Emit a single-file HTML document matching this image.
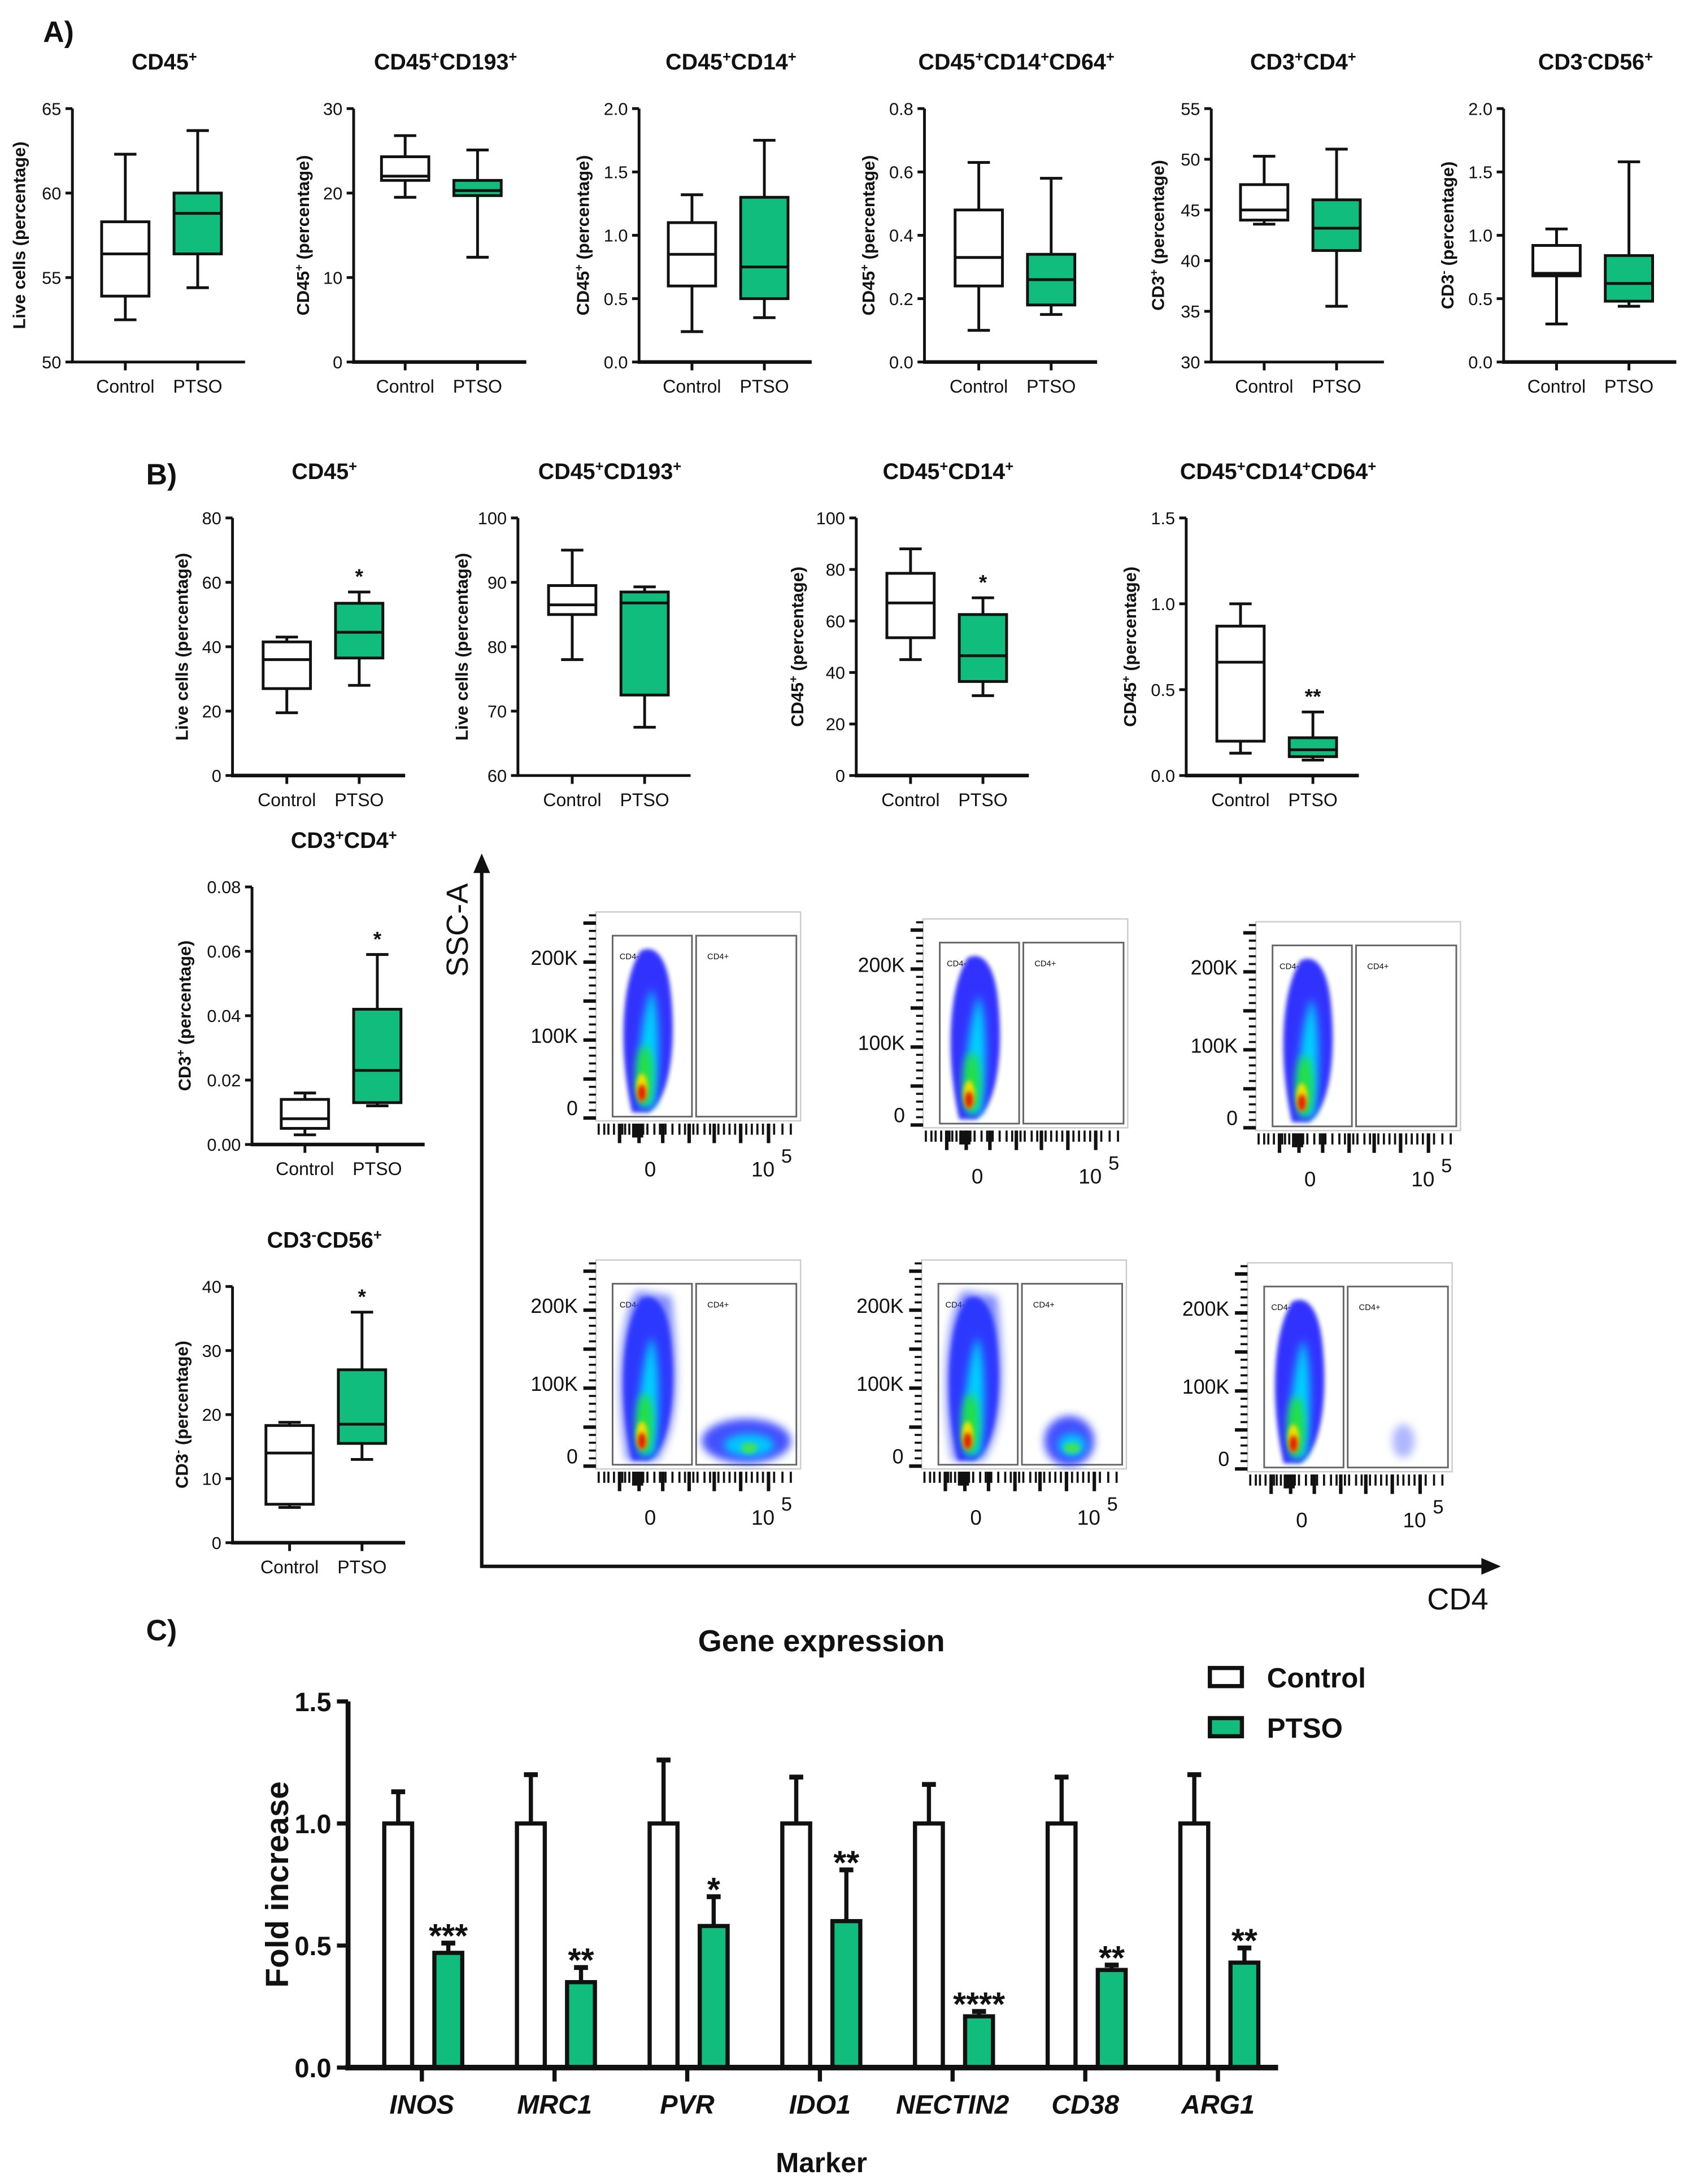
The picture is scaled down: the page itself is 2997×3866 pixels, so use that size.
<!DOCTYPE html>
<html><head><meta charset="utf-8"><style>
html,body{margin:0;padding:0;background:#fff}
svg{display:block}
text{font-family:"Liberation Sans",sans-serif;fill:#111}
</style></head><body>
<svg id="fig" xmlns="http://www.w3.org/2000/svg" width="2997" height="3866" viewBox="0 0 1216 1568.6">
<defs>
<filter id="blur" x="-50%" y="-50%" width="200%" height="200%"><feGaussianBlur stdDeviation="3"/></filter>
<filter id="blur2" x="-50%" y="-50%" width="200%" height="200%"><feGaussianBlur stdDeviation="1.5"/></filter>
</defs>
<g id="root"></g>
</svg>
<script>
// ---------- Panel A data: [min, q1, median, q3, max] ----------
const a1Control=[52.5,53.9,56.4,58.3,62.3], a1Ptso=[54.4,56.4,58.8,60.0,63.7];
const a2Control=[19.5,21.5,22.0,24.3,26.8], a2Ptso=[12.4,19.7,20.3,21.5,25.1];
const a3Control=[0.24,0.60,0.85,1.10,1.32], a3Ptso=[0.35,0.50,0.75,1.30,1.75];
const a4Control=[0.10,0.24,0.33,0.48,0.63], a4Ptso=[0.15,0.18,0.26,0.34,0.58];
const a5Control=[43.6,44.0,45.0,47.5,50.3], a5Ptso=[35.5,41.0,43.2,46.0,51.0];
const a6Control=[0.30,0.68,0.70,0.92,1.05], a6Ptso=[0.44,0.48,0.62,0.84,1.58];
// ---------- Panel B data ----------
const b1Control=[19.5,27,36,41.5,43], b1Ptso=[28,36.5,44.5,53.5,57];
const b2Control=[78,85,86.5,89.5,95], b2Ptso=[67.5,72.5,86.8,88.5,89.3];
const b3Control=[45,53.5,67,78.5,88], b3Ptso=[31,36.5,46.5,62.5,69];
const b4Control=[0.13,0.20,0.66,0.87,1.0], b4Ptso=[0.09,0.11,0.15,0.22,0.37];
const b5Control=[0.003,0.005,0.008,0.014,0.016], b5Ptso=[0.012,0.013,0.023,0.042,0.059];
const b6Control=[5.5,6,14,18.3,18.8], b6Ptso=[13,15.5,18.5,27,36];
const groupLabels=["Control","PTSO"];
// ---------- Panel C data ----------
const genes=["INOS","MRC1","PVR","IDO1","NECTIN2","CD38","ARG1"];
const ctrlMean=[1,1,1,1,1,1,1];
const ctrlErr=[0.13,0.20,0.26,0.19,0.16,0.19,0.20];
const ptsoMean=[0.47,0.35,0.58,0.60,0.21,0.40,0.43];
const ptsoErr=[0.04,0.06,0.12,0.21,0.02,0.02,0.06];
const sigStars=["***","**","*","**","****","**","**"];
const cTicks=["0.0","0.5","1.0","1.5"];

const NS="http://www.w3.org/2000/svg";
const root=document.getElementById('root');
const GREEN="#10bd7c";
function mk(tag,attrs,parent){const e=document.createElementNS(NS,tag);for(const k in attrs)e.setAttribute(k,attrs[k]);(parent||root).appendChild(e);return e;}
function rich(t,str){
  const parts=str.split(/(\^[+-])/);
  parts.forEach(p=>{if(!p)return;const s=document.createElementNS(NS,'tspan');
    if(p[0]==='^'){s.setAttribute('baseline-shift','super');s.setAttribute('font-size','65%');s.textContent=p[1];}
    else s.textContent=p;t.appendChild(s);});
}
function label(x,y,str,opt,parent,name){
  const t=mk('text',Object.assign({x:x,y:y,'text-anchor':'middle'},opt||{}),parent);
  
  
  rich(t,str);return t;
}

function boxChart(c){
  const g=mk('g',{});
  
  
  const ys=v=>c.bot-(v-c.min)/(c.max-c.min)*(c.bot-c.top);
  label(c.ax+c.w/2+4,c.top-28,c.title,{'font-size':16,'font-weight':'bold'},g,'chart-title');
  const ya=mk('line',{x1:c.ax,y1:c.top,x2:c.ax,y2:c.bot,stroke:'#111','stroke-width':2},g);
  
  const xa=mk('line',{x1:c.ax-1,y1:c.bot,x2:c.ax+c.w,y2:c.bot,stroke:'#111','stroke-width':c.min===0?2.6:2},g);
  
  for(let v=c.min;v<=c.max+1e-9;v+=c.step){
    const y=ys(v);
    mk('line',{x1:c.ax-5,y1:y,x2:c.ax,y2:y,stroke:'#111','stroke-width':2},g);
    const t=mk('text',{x:c.ax-8,y:y+4.5,'text-anchor':'end','font-size':12.5},g);
    
    t.textContent=v.toFixed(c.dec);
  }
  label(0,0,c.ylabel,{'font-size':12.5,'font-weight':'bold',transform:`translate(${c.ax-c.lo},${(c.top+c.bot)/2}) rotate(-90)`},g,'y-axis-title');
  [c.ctrl,c.ptso].forEach((d,i)=>{
    const x=c.ax+c.off+i*52;
    mk('line',{x1:x,y1:c.bot,x2:x,y2:c.bot+6,stroke:'#111','stroke-width':2},g);
    const t=mk('text',{x:x,y:c.bot+22,'text-anchor':'middle','font-size':13},g);
    
    t.textContent=groupLabels[i];
    const bg=mk('g',{},g);
    
    
    mk('line',{x1:x,y1:ys(d[0]),x2:x,y2:ys(d[4]),stroke:'#111','stroke-width':2},bg);
    mk('line',{x1:x-8,y1:ys(d[0]),x2:x+8,y2:ys(d[0]),stroke:'#111','stroke-width':2},bg);
    mk('line',{x1:x-8,y1:ys(d[4]),x2:x+8,y2:ys(d[4]),stroke:'#111','stroke-width':2},bg);
    mk('rect',{x:x-17,y:ys(d[3]),width:34,height:ys(d[1])-ys(d[3]),fill:i?GREEN:'#fff',stroke:'#111','stroke-width':2},bg);
    mk('line',{x1:x-17,y1:ys(d[2]),x2:x+17,y2:ys(d[2]),stroke:'#111','stroke-width':2},bg);
    if(i&&c.star){const s=mk('text',{x:x,y:ys(d[4])-6,'text-anchor':'middle','font-size':15,'font-weight':'bold'},g);
      s.textContent=c.star;}
  });
}
const at=78,ab=260;
label(42,30,"A)",{'font-size':21,'font-weight':'bold'},null,'panel-a-label');
boxChart({name:'a-cd45',title:'CD45^+',ylabel:'Live cells (percentage)',ax:52,top:at,bot:ab,min:50,max:65,step:5,dec:0,w:124,off:38,lo:34,ctrl:a1Control,ptso:a1Ptso});
boxChart({name:'a-cd45-cd193',title:'CD45^+CD193^+',ylabel:'CD45^+ (percentage)',ax:254,top:at,bot:ab,min:0,max:30,step:10,dec:0,w:124,off:37,lo:32,ctrl:a2Control,ptso:a2Ptso});
boxChart({name:'a-cd45-cd14',title:'CD45^+CD14^+',ylabel:'CD45^+ (percentage)',ax:459,top:at,bot:ab,min:0,max:2,step:0.5,dec:1,w:124,off:38,lo:36,ctrl:a3Control,ptso:a3Ptso});
boxChart({name:'a-cd45-cd14-cd64',title:'CD45^+CD14^+CD64^+',ylabel:'CD45^+ (percentage)',ax:664,top:at,bot:ab,min:0,max:0.8,step:0.2,dec:1,w:124,off:39,lo:36,ctrl:a4Control,ptso:a4Ptso});
boxChart({name:'a-cd3-cd4',title:'CD3^+CD4^+',ylabel:'CD3^+ (percentage)',ax:870,top:at,bot:ab,min:30,max:55,step:5,dec:0,w:124,off:38,lo:34,ctrl:a5Control,ptso:a5Ptso});
boxChart({name:'a-cd3-cd56',title:'CD3^-CD56^+',ylabel:'CD3^- (percentage)',ax:1080,top:at,bot:ab,min:0,max:2,step:0.5,dec:1,w:124,off:38,lo:36,ctrl:a6Control,ptso:a6Ptso});
label(116,348,"B)",{'font-size':21,'font-weight':'bold'},null,'panel-b-label');
boxChart({name:'b-cd45',title:'CD45^+',ylabel:'Live cells (percentage)',ax:167,top:372,bot:557,min:0,max:80,step:20,dec:0,w:124,off:39,lo:32,ctrl:b1Control,ptso:b1Ptso,star:'*'});
boxChart({name:'b-cd45-cd193',title:'CD45^+CD193^+',ylabel:'Live cells (percentage)',ax:372,top:372,bot:557,min:60,max:100,step:10,dec:0,w:124,off:39,lo:36,ctrl:b2Control,ptso:b2Ptso});
boxChart({name:'b-cd45-cd14',title:'CD45^+CD14^+',ylabel:'CD45^+ (percentage)',ax:615,top:372,bot:557,min:0,max:100,step:20,dec:0,w:124,off:39,lo:38,ctrl:b3Control,ptso:b3Ptso,star:'*'});
boxChart({name:'b-cd45-cd14-cd64',title:'CD45^+CD14^+CD64^+',ylabel:'CD45^+ (percentage)',ax:852,top:372,bot:557,min:0,max:1.5,step:0.5,dec:1,w:124,off:39,lo:36,ctrl:b4Control,ptso:b4Ptso,star:'**'});
boxChart({name:'b-cd3-cd4',title:'CD3^+CD4^+',ylabel:'CD3^+ (percentage)',ax:181,top:637,bot:822,min:0,max:0.08,step:0.02,dec:2,w:124,off:38,lo:44,ctrl:b5Control,ptso:b5Ptso,star:'*'});
boxChart({name:'b-cd3-cd56',title:'CD3^-CD56^+',ylabel:'CD3^- (percentage)',ax:167,top:924,bot:1108,min:0,max:40,step:10,dec:0,w:124,off:41,lo:32,ctrl:b6Control,ptso:b6Ptso,star:'*'});

const flow=mk('g',{});


mk('line',{x1:346,y1:1126,x2:346,y2:625,stroke:'#111','stroke-width':2.5},flow);
mk('polygon',{points:'340,627 352,627 346,613',fill:'#111'},flow);
mk('line',{x1:345,y1:1125,x2:1066,y2:1125,stroke:'#111','stroke-width':2.5},flow);
mk('polygon',{points:'1064,1119 1064,1131 1078,1125',fill:'#111'},flow);
label(0,0,'SSC-A',{'font-size':22,transform:'translate(336,668) rotate(-90)'},flow,'y-axis-title');
label(1047,1156,'CD4',{'font-size':22},flow,'x-axis-title');
const plots=[[428,655,0],[663,660,0],[902,662,0],[428,905,1],[662,905,1],[896,907,2]];
plots.forEach((p,k)=>{
  const [fx,fy,pos]=p;const g=mk('g',{},flow);
  
  
  mk('rect',{x:fx,y:fy,width:147,height:150,fill:'#fff',stroke:'#ccc','stroke-width':1},g);
  for(let i=0;i<=26;i++){const y=fy+148-i*5.6;const big=i%5===0;
    mk('line',{x1:fx-(big?9:5),y1:y,x2:fx,y2:y,stroke:'#111','stroke-width':big?2.5:1.5},g);}
  [['200K',fy+38],['100K',fy+94],['0',fy+146]].forEach(l=>{const tt=mk('text',{x:fx-13,y:l[1],'text-anchor':'end','font-size':14.5},g);tt.textContent=l[0];});
  const xt=[2,6,9,13,17,19,21,24,27,31,34,37,42,46,48,50,55,60,64,67,70,73,78,82,85,88,92,96,100,104,108,112,116,120,124,128,134,140];
  xt.forEach((v,i)=>{const big=(i%5===4);mk('line',{x1:fx+v,y1:fy+152,x2:fx+v,y2:fy+152+(big?14:8),stroke:'#111','stroke-width':big?2.5:1.5},g);});
  mk('rect',{x:fx+26,y:fy+152,width:8,height:10,fill:'#111'},g);
  let tt=mk('text',{x:fx+39,y:fy+190,'text-anchor':'middle','font-size':15},g);tt.textContent='0';
  tt=mk('text',{x:fx+120,y:fy+190,'text-anchor':'middle','font-size':15},g);tt.textContent='10';
  tt=mk('text',{x:fx+137,y:fy+180,'text-anchor':'middle','font-size':14},g);tt.textContent='5';
  mk('rect',{x:fx+12,y:fy+17,width:57,height:130,fill:'none',stroke:'#666','stroke-width':1.2},g);
  mk('rect',{x:fx+72,y:fy+17,width:72,height:130,fill:'none',stroke:'#666','stroke-width':1.2},g);
  mk('text',{x:fx+17,y:fy+34,'font-size':6,fill:'#555'},g).textContent='CD4-';
  mk('text',{x:fx+80,y:fy+34,'font-size':6,fill:'#555'},g).textContent='CD4+';
  const cx=fx+38, by=fy+140;
  const wide=pos===1;
  mk('path',{d:`M${cx-12},${by+4} C${cx-22},${by-40} ${cx-20},${by-90} ${cx-6},${by-112} C${cx+6},${by-118} ${cx+14},${by-104} ${cx+16},${by-80} C${cx+20},${by-40} ${cx+14},${by-5} ${cx},${by+4} Z`,fill:'#1a1aff',filter:'url(#blur2)',opacity:0.9},g);
  if(wide) mk('path',{d:`M${cx-16},${by+4} C${cx-24},${by-40} ${cx-22},${by-100} ${cx-8},${by-118} L${cx+16},${by-114} C${cx+22},${by-60} ${cx+22},${by-20} ${cx+6},${by+4} Z`,fill:'#2a3cff',opacity:0.6,filter:'url(#blur)'},g);
  mk('path',{d:`M${cx-6},${by} C${cx-10},${by-30} ${cx-4},${by-70} ${cx+2},${by-85} C${cx+8},${by-70} ${cx+8},${by-30} ${cx+4},${by} Z`,fill:'#00d0ff',filter:'url(#blur)'},g);
  mk('ellipse',{cx:cx-3,cy:by-22,rx:6,ry:22,fill:'#20e040',filter:'url(#blur)'},g);
  mk('ellipse',{cx:cx-5,cy:by-14,rx:4,ry:10,fill:'#f0e000',filter:'url(#blur2)'},g);
  mk('ellipse',{cx:cx-5,cy:by-10,rx:3,ry:6,fill:'#e02000',filter:'url(#blur2)'},g);
  if(pos===1){
    const px=fx+(k===3?108:106);
    mk('ellipse',{cx:px,cy:by-10,rx:k===3?32:18,ry:k===3?16:18,fill:'#2030ff',opacity:0.85,filter:'url(#blur)'},g);
    mk('ellipse',{cx:px+2,cy:by-7,rx:k===3?18:10,ry:8,fill:'#00c8ff',filter:'url(#blur)'},g);
    mk('ellipse',{cx:px+2,cy:by-5,rx:6,ry:4,fill:'#40e060',filter:'url(#blur2)'},g);
  }
  if(pos===2) mk('ellipse',{cx:fx+112,cy:by-12,rx:8,ry:12,fill:'#6070ff',opacity:0.5,filter:'url(#blur)'},g);
});

label(116,1178,"C)",{'font-size':21,'font-weight':'bold'},null,'panel-c-label');
label(590,1186,"Gene expression",{'font-size':22,'font-weight':'bold'},null,'chart-title');
const cAx=250,cTop=1222,cBot=1485,cMax=1.5,cRight=918;
const cy=v=>cBot-v/cMax*(cBot-cTop);
const gx=i=>303+i*95.3;
const cg=mk('g',{});


cTicks.forEach(s=>{const v=parseFloat(s),y=cy(v);
  mk('line',{x1:cAx-8,y1:y,x2:cAx,y2:y,stroke:'#111','stroke-width':3},cg);
  const tt=mk('text',{x:cAx-12,y:y+7,'text-anchor':'end','font-size':19,'font-weight':'bold'},cg);
  tt.textContent=s;});
label(0,0,'Fold increase',{'font-size':23,'font-weight':'bold',transform:`translate(207,${(cTop+cBot)/2}) rotate(-90)`},cg,'y-axis-title');
label(590,1560,'Marker',{'font-size':20,'font-weight':'bold'},cg,'x-axis-title');
genes.forEach((gname,i)=>{
  const x=gx(i);
  const xc=x-17, xp=x+19;
  const b1=mk('rect',{x:xc-10,y:cy(ctrlMean[i]),width:20,height:cBot-cy(ctrlMean[i]),fill:'#fff',stroke:'#111','stroke-width':3},cg);
  
  mk('line',{x1:xc,y1:cy(ctrlMean[i]),x2:xc,y2:cy(ctrlMean[i]+ctrlErr[i]),stroke:'#111','stroke-width':3},cg);
  mk('line',{x1:xc-5,y1:cy(ctrlMean[i]+ctrlErr[i]),x2:xc+5,y2:cy(ctrlMean[i]+ctrlErr[i]),stroke:'#111','stroke-width':3.5},cg);
  const b2=mk('rect',{x:xp-10,y:cy(ptsoMean[i]),width:20,height:cBot-cy(ptsoMean[i]),fill:GREEN,stroke:'#111','stroke-width':3},cg);
  
  mk('line',{x1:xp,y1:cy(ptsoMean[i]),x2:xp,y2:cy(ptsoMean[i]+ptsoErr[i]),stroke:'#111','stroke-width':3},cg);
  mk('line',{x1:xp-5,y1:cy(ptsoMean[i]+ptsoErr[i]),x2:xp+5,y2:cy(ptsoMean[i]+ptsoErr[i]),stroke:'#111','stroke-width':3.5},cg);
  const st=mk('text',{x:xp,y:cy(ptsoMean[i]+ptsoErr[i])+3,'text-anchor':'middle','font-size':24,'font-weight':'bold'},cg);
  st.textContent=sigStars[i];
  mk('line',{x1:x,y1:cBot,x2:x,y2:cBot+10,stroke:'#111','stroke-width':3},cg);
  const tl=mk('text',{x:x,y:cBot+33,'text-anchor':'middle','font-size':19,'font-weight':'bold','font-style':'italic'},cg);
  tl.textContent=gname;
});
mk('line',{x1:cAx,y1:cTop,x2:cAx,y2:cBot+2,stroke:'#111','stroke-width':3.5},cg);
mk('line',{x1:cAx-2,y1:cBot,x2:cRight,y2:cBot,stroke:'#111','stroke-width':4},cg);
const lg=mk('g',{});


[['Control','#fff',1205],['PTSO',GREEN,1241]].forEach(l=>{
  const e=mk('g',{},lg);
  
  
  mk('rect',{x:869,y:l[2]-7,width:23,height:13,fill:l[1],stroke:'#111','stroke-width':3},e);
  const tt=mk('text',{x:910,y:l[2]+7,'font-size':20,'font-weight':'bold'},e);tt.textContent=l[0];
});
</script>
</body></html>
